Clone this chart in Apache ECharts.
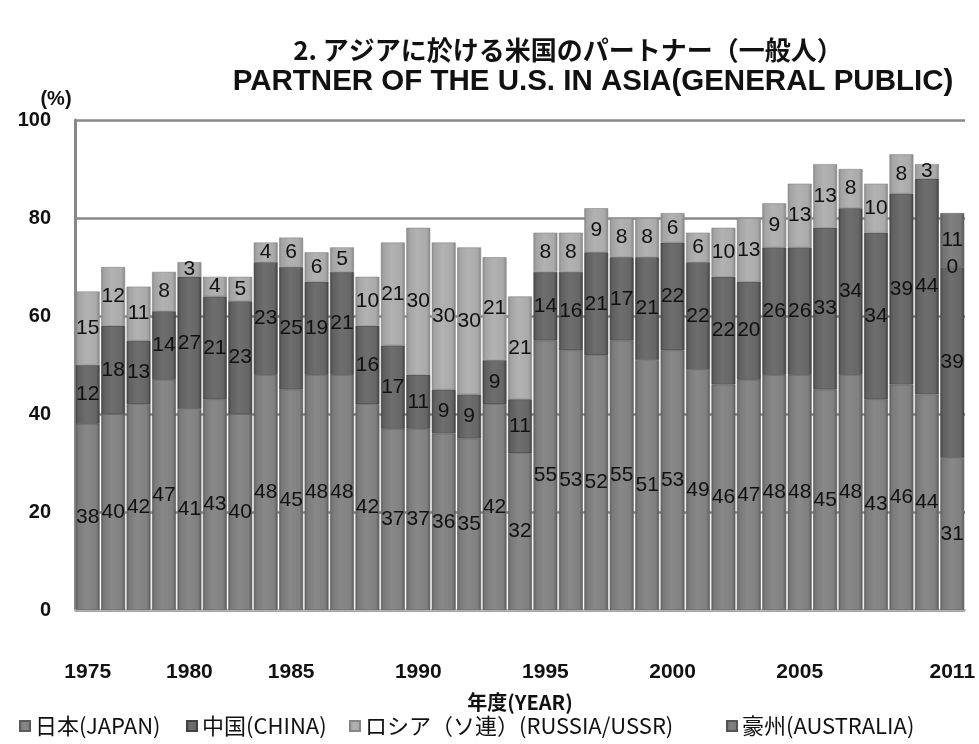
<!DOCTYPE html>
<html>
<head>
<meta charset="utf-8">
<script src="https://cdn.jsdelivr.net/npm/echarts@6/dist/echarts.min.js"></script>
<style>
html,body{margin:0;padding:0;background:#fff;}
#c{width:979px;height:744px;}
</style>
</head>
<body>
<div id="c"></div>
<script>
const categories = ['1975','','','','1980','','','','1985','','','','','1990','','','','','1995','','','','','2000','','','','','2005','','','','','','2011'];
const japan = [38,40,42,47,41,43,40,48,45,48,48,42,37,37,36,35,42,32,55,53,52,55,51,53,49,46,47,48,48,45,48,43,46,44,31];
const china = [12,18,13,14,27,21,23,23,25,19,21,16,17,11,9,9,9,11,14,16,21,17,21,22,22,22,20,26,26,33,34,34,39,44,39];
const russia = [15,12,11,8,3,4,5,4,6,6,5,10,21,30,30,30,21,21,8,8,9,8,8,6,6,10,13,9,13,13,8,10,8,3,0];
const australia = [null,null,null,null,null,null,null,null,null,null,null,null,null,null,null,null,null,null,null,null,null,null,null,null,null,null,null,null,null,null,null,null,null,null,11];
const seriesNames = ['日本(JAPAN)','中国(CHINA)','ロシア（ソ連）(RUSSIA/USSR)','豪州(AUSTRALIA)'];
const yTicks = [0,20,40,60,80,100];

function shade(hex, d){
  const v = parseInt(hex.slice(1,3),16) + d;
  const c = Math.max(0, Math.min(255, v)).toString(16).padStart(2,'0');
  return '#' + c + c + c;
}
function grad(base){
  return new echarts.graphic.LinearGradient(0,0,1,0,[
    {offset:0, color:shade(base,-34)},
    {offset:0.12, color:shade(base,-8)},
    {offset:0.45, color:shade(base,6)},
    {offset:0.85, color:shade(base,-2)},
    {offset:1, color:shade(base,-38)}
  ]);
}
const baseColors = ['#828282','#686868','#acacac','#7a7a7a'];
const datasets = [japan, china, russia, australia];
const legendLefts = [14, 181, 344, 721];

const chart = echarts.init(document.getElementById('c'), null, {renderer:'canvas'});
const series = datasets.map((d,i)=>({
  name: seriesNames[i],
  type: 'bar',
  stack: 'total',
  data: d,
  barCategoryGap: '6%',
  itemStyle: { color: grad(baseColors[i]), borderColor: shade(baseColors[i],-38), borderWidth: 0.6 },
  label: {
    show: true,
    position: 'inside',
    color: '#111',
    fontSize: 21,
    fontFamily: 'Liberation Sans, Arial, sans-serif',
    formatter: p => (p.value === null || p.value === undefined) ? '' : String(p.value)
  },
  emphasis: {disabled: true}
}));

const legends = seriesNames.map((n,i)=>({
  bottom: 2,
  left: legendLefts[i],
  itemWidth: 10, itemHeight: 10,
  icon: 'rect',
  textStyle: {fontSize: 22, color: '#111', fontFamily: 'Noto Sans CJK JP, sans-serif'},
  data: [n]
}));

chart.setOption({
  animation: false,
  color: baseColors,
  title: [
    { text: '2. アジアに於ける米国のパートナー（一般人）', left: 563, top: 32, textAlign: 'center',
      textStyle: {fontSize: 26, fontWeight: 'bold', color: '#111', fontFamily: 'Noto Sans CJK JP, sans-serif'} },
    { text: 'PARTNER OF THE U.S. IN ASIA(GENERAL PUBLIC)', left: 588, top: 62, textAlign: 'center',
      textStyle: {fontSize: 29.5, fontWeight: 'bold', color: '#111', fontFamily: 'Liberation Sans, Arial, sans-serif'} },
    { text: '(%)', left: 51, top: 84, textAlign: 'center',
      textStyle: {fontSize: 20, fontWeight: 'bold', color: '#111', fontFamily: 'Liberation Sans, Arial, sans-serif'} }
  ],
  legend: legends,
  grid: { left: 75, right: 14, top: 120, bottom: 134 },
  xAxis: {
    type: 'category',
    data: categories,
    name: '年度(YEAR)',
    nameLocation: 'middle',
    nameGap: 82,
    nameTextStyle: {fontSize: 20, fontWeight: 'bold', color: '#111', fontFamily: 'Noto Sans CJK JP, sans-serif'},
    axisLine: {show: true, lineStyle: {color: '#bbb', width: 2}},
    axisTick: {show: false},
    axisLabel: {interval: 0, margin: 52, fontSize: 21, fontWeight: 'bold', color: '#111', fontFamily: 'Liberation Sans, Arial, sans-serif'}
  },
  yAxis: {
    type: 'value',
    min: 0, max: 100, interval: 20,
    axisLine: {show: true, lineStyle: {color: '#888', width: 3}},
    axisTick: {show: false},
    axisLabel: {margin: 24, fontSize: 20, fontWeight: 'bold', color: '#111', fontFamily: 'Liberation Sans, Arial, sans-serif',
      formatter: v => yTicks.includes(v) ? String(v) : ''},
    splitLine: {show: true, lineStyle: {color: '#888', width: 2.5}}
  },
  series: series
});
</script>
</body>
</html>
